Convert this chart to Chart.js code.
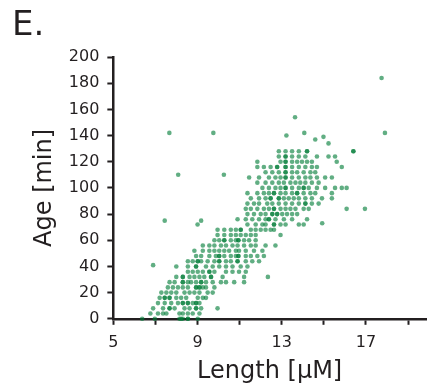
<html>
<head>
<script src="https://cdn.jsdelivr.net/npm/chart.js@4"></script>
<style>
  body { margin: 0; background: #fff; }
  #panel { position: absolute; left: 12px; top: 3px; font: 34px "DejaVu Sans"; color: #231f20; }
</style>
<script>
var ageRows = [0, 4, 8, 12, 16, 20, 24, 28, 32, 36, 40, 44, 48, 52, 56, 60, 64,
               68, 72, 76, 80, 84, 88, 92, 96, 100, 104, 108, 112, 116, 120, 124, 128];
var lengthsAtAge = [
  [6.37, 6.97, 8.14, 8.22, 8.30, 8.54, 8.54, 9.01],
  [6.76, 7.12, 7.36, 7.52, 8.14, 8.30, 8.54, 8.77, 9.09],
  [6.89, 7.36, 7.67, 7.67, 7.91, 8.38, 8.62, 8.93, 8.93, 9.17, 9.95],
  [7.12, 7.44, 7.75, 8.07, 8.30, 8.30, 8.54, 8.54, 8.77, 8.93, 8.93, 9.09],
  [7.20, 7.44, 7.44, 7.67, 7.67, 7.99, 8.22, 8.46, 9.01, 9.25, 9.40],
  [7.28, 7.52, 7.75, 7.99, 8.38, 8.62, 8.85, 9.09, 9.48, 9.72],
  [7.59, 7.83, 8.07, 8.30, 8.54, 8.93, 8.93, 9.09, 9.09, 9.25, 9.40, 9.80],
  [7.67, 7.91, 8.30, 8.30, 8.54, 8.69, 8.93, 9.17, 9.17, 9.40, 9.72, 10.11, 10.35, 10.74, 11.21],
  [7.99, 8.30, 8.30, 8.62, 8.85, 9.09, 9.32, 9.64, 9.64, 10.19, 11.21, 12.34],
  [8.54, 8.77, 9.01, 9.25, 9.56, 9.56, 9.80, 10.35, 10.66, 10.97, 11.29],
  [7.99, 8.54, 8.93, 8.93, 9.40, 9.72, 10.03, 10.35, 10.66, 11.05, 11.37],
  [8.54, 8.77, 9.01, 9.01, 9.17, 9.48, 9.80, 10.03, 10.03, 10.35, 10.58, 10.90, 10.90, 11.29, 11.60, 11.92],
  [8.93, 9.17, 9.56, 9.87, 10.03, 10.03, 10.27, 10.58, 10.82, 10.94, 10.94, 11.29, 11.53, 11.84, 12.15],
  [8.85, 9.25, 9.56, 9.80, 10.03, 10.27, 10.50, 10.82, 10.97, 11.29, 11.68, 12.08],
  [9.25, 9.56, 9.80, 10.11, 10.35, 10.66, 10.90, 11.21, 11.53, 11.76, 12.23, 12.70],
  [9.80, 10.03, 10.27, 10.27, 10.58, 10.82, 10.94, 10.94, 11.21, 11.45, 11.76],
  [9.95, 10.27, 10.58, 10.82, 11.05, 11.29, 11.53, 11.76, 12.94],
  [9.95, 10.27, 10.58, 10.82, 11.05, 11.05, 11.53, 11.76, 12.00, 12.23, 12.47, 12.63],
  [11.37, 11.76, 12.08, 12.23, 12.63, 12.63, 12.94, 13.18, 13.81, 14.04],
  [10.90, 11.29, 11.60, 11.92, 12.23, 12.39, 12.39, 12.70, 13.10, 13.49, 14.20],
  [11.37, 11.68, 12.00, 12.23, 12.55, 12.55, 12.78, 12.78, 13.02, 13.25, 13.49, 13.73],
  [11.29, 11.53, 11.84, 12.15, 12.39, 12.63, 12.63, 12.94, 13.18, 13.41, 13.65, 14.04, 14.28],
  [11.37, 11.68, 11.92, 12.31, 12.55, 12.86, 13.18, 13.49, 13.81, 14.12, 14.12, 14.43, 14.75],
  [11.53, 11.92, 12.23, 12.47, 12.47, 12.86, 12.86, 13.10, 13.33, 13.57, 13.81, 14.12, 14.43, 14.91, 15.38],
  [11.37, 11.84, 12.15, 12.39, 12.63, 12.63, 12.94, 13.18, 13.49, 13.73, 13.73, 14.04, 14.36, 14.59, 15.38],
  [12.08, 12.39, 12.70, 12.94, 13.18, 13.18, 13.49, 13.81, 14.04, 14.04, 14.28, 14.67, 15.06, 15.53, 15.85, 16.08],
  [11.84, 12.23, 12.55, 12.86, 13.10, 13.41, 13.65, 13.88, 14.12, 14.43, 14.75],
  [11.45, 11.92, 12.39, 12.70, 12.94, 13.18, 13.18, 13.49, 13.81, 14.12, 14.36, 14.67, 15.06, 15.38],
  [12.23, 12.55, 12.86, 13.18, 13.18, 13.49, 13.73, 14.04, 14.36, 14.59],
  [11.84, 12.15, 12.47, 12.78, 12.78, 13.18, 13.18, 13.49, 13.81, 14.12, 14.43, 14.67, 15.85],
  [11.84, 12.94, 13.18, 13.18, 13.49, 13.73, 13.96, 14.20, 14.43, 15.61],
  [12.86, 13.18, 13.18, 13.49, 13.81, 14.12, 14.67, 15.22, 15.53],
  [12.86, 13.18, 13.49, 13.81, 14.20, 14.20, 16.40, 16.40]
];
// scattered cells away from the main cloud
var outlierLength = [17.74, 17.90, 7.66, 9.75, 13.63, 8.08, 10.25, 7.44, 6.89, 9.00, 9.17, 16.08, 16.95, 14.92, 13.22, 14.07, 14.59, 14.98, 15.22];
var outlierAge    = [184,   142,   142,  142,  154,   110,  110,   75,   41,   72,   75,   84,    84,    73,    140,   142,   137,   139,   134];

var xTicks = [5, 7, 9, 11, 13, 15, 17, 19];
var xTickLabels = [5, 9, 13, 17];

var ink = '#231f20';

function buildPoints()
{
    var pts = [];
    for (var r = 0; r < ageRows.length; r++)
    {
        for (var j = 0; j < lengthsAtAge[r].length; j++)
        {
            pts.push({x: lengthsAtAge[r][j], y: ageRows[r]});
        }
    }
    for (var k = 0; k < outlierLength.length; k++)
    {
        pts.push({x: outlierLength[k], y: outlierAge[k]});
    }
    return pts;
}

function doLoading()
{
    var ctx = document.getElementById('chartCanvas').getContext('2d');
    new Chart(ctx, {
        type: 'scatter',
        data: {
            datasets: [{
                data: buildPoints(),
                backgroundColor: 'rgba(0, 125, 55, 0.62)',
                borderWidth: 0,
                pointRadius: 2.3,
                clip: false
            }]
        },
        options: {
            responsive: false,
            animation: false,
            layout: { padding: { left: 22, top: 57, right: 2, bottom: 0 } },
            plugins: { legend: { display: false }, tooltip: { enabled: false } },
            scales: {
                x: {
                    type: 'linear',
                    min: 5,
                    max: 19.85,
                    afterBuildTicks: function (s) { s.ticks = xTicks.map(function (v) { return {value: v}; }); },
                    grid: { drawOnChartArea: false, drawTicks: true, tickLength: 6, tickWidth: 2, tickColor: ink },
                    border: { display: true, color: ink, width: 2.5 },
                    ticks: {
                        color: ink, padding: 8, maxRotation: 0, autoSkip: false,
                        font: { family: 'DejaVu Sans', size: 16 },
                        callback: function (v) { return xTickLabels.indexOf(v) >= 0 ? String(v) : ''; }
                    },
                    title: { display: true, text: 'Length [µM]', color: ink,
                             font: { family: 'DejaVu Sans', size: 24, lineHeight: 1 }, padding: { top: 0, bottom: 3 } }
                },
                y: {
                    min: 0,
                    max: 200,
                    grid: { drawOnChartArea: false, drawTicks: true, tickLength: 6, tickWidth: 2, tickColor: ink },
                    border: { display: true, color: ink, width: 2.5 },
                    ticks: { stepSize: 20, color: ink, padding: 8,
                             font: { family: 'DejaVu Sans', size: 16 } },
                    title: { display: true, text: 'Age [min]', color: ink,
                             font: { family: 'DejaVu Sans', size: 24 }, padding: { top: 8, bottom: 2 } }
                }
            }
        }
    });
}
</script>
</head>
<body onload="doLoading()">
  <div id="panel">E.</div>
  <canvas id="chartCanvas" width="430" height="387"></canvas>
</body>
</html>
